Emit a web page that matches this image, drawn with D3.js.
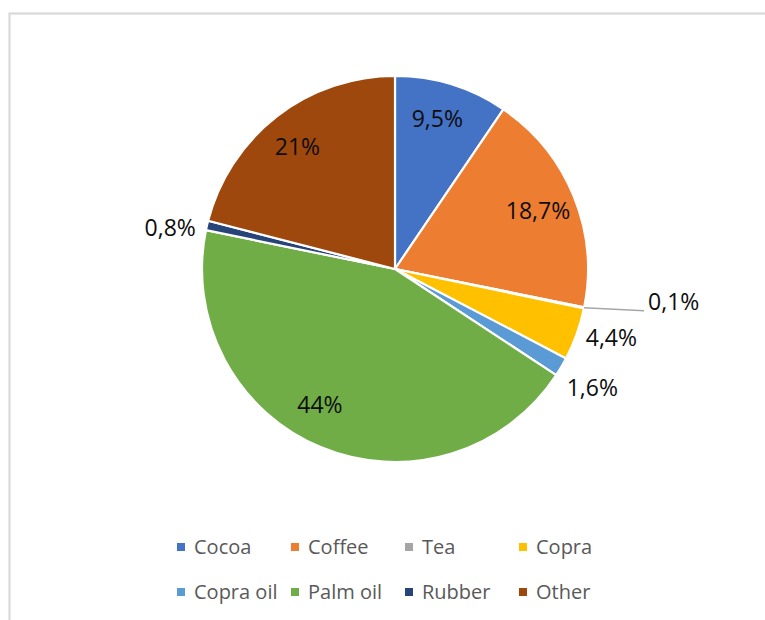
<!DOCTYPE html>
<html>
<head>
<meta charset="utf-8">
<script src="https://cdn.jsdelivr.net/npm/d3@7"></script>
<style>
  html, body { margin: 0; padding: 0; background: #fff; }
  svg { display: block; }
</style>
</head>
<body>
<svg id="chart" width="765" height="620"></svg>
<script>
// Export shares by product (%)
const categories = ["Cocoa", "Coffee", "Tea", "Copra", "Copra oil", "Palm oil", "Rubber", "Other"];
const values = [9.5, 18.7, 0.1, 4.4, 1.6, 44, 0.8, 21];
const colors = ["#4472C4", "#ED7D31", "#A5A5A5", "#FFC000", "#5B9BD5", "#70AD47", "#264478", "#9E480E"];

// Where each slice's value label goes
const labelMode = ["inside", "inside", "leader", "outside", "outside", "inside", "outside", "inside"];
const labelNudge = { "Cocoa": [-3, -3], "Copra": [3, -3], "Copra oil": [2, 11], "Palm oil": [-16, -7], "Rubber": [-4, 7], "Other": [-3, 0] };

const W = 765, H = 620;
const cx = 395, cy = 269, R = 193;

const svg = d3.select("#chart");

// outer frame
svg.append("rect")
  .attr("x", 9.5).attr("y", 13.5)
  .attr("width", 800).attr("height", 700)
  .attr("fill", "#fff")
  .attr("stroke", "#d9d9d9").attr("stroke-width", 2.2);

const data = categories.map((c, i) => ({ name: c, value: values[i], color: colors[i], mode: labelMode[i] }));

const pie = d3.pie().sort(null).value(d => d.value);
const arcs = pie(data);
const arc = d3.arc().innerRadius(0).outerRadius(R);

const g = svg.append("g").attr("transform", `translate(${cx},${cy})`);

g.selectAll("path.slice")
  .data(arcs)
  .join("path")
  .attr("class", "slice")
  .attr("d", arc)
  .attr("fill", d => d.data.color)
  .attr("stroke", "#fff")
  .attr("stroke-width", 2.2)
  .attr("stroke-linejoin", "round");

const fmt = v => String(v).replace(".", ",") + "%";
const labelFont = "'Open Sans', sans-serif";
const labelSize = 23;

const polar = (r, a) => [r * Math.sin(a), -r * Math.cos(a)];

arcs.forEach(d => {
  const mid = (d.startAngle + d.endAngle) / 2;
  const nudge = labelNudge[d.data.name] || [0, 0];
  const txt = g.append("text")
    .text(fmt(d.data.value))
    .attr("font-family", labelFont)
    .attr("font-size", labelSize)
    .attr("fill", "#0d0d0d")
    .attr("dy", "0.36em");

  if (d.data.mode === "inside") {
    const [x, y] = polar(R * 0.8, mid);
    txt.attr("x", x + nudge[0]).attr("y", y + nudge[1]).attr("text-anchor", "middle");
  } else if (d.data.mode === "outside") {
    const w = txt.node().getComputedTextLength();
    const h = labelSize * 1.05;
    const [px, py] = polar(R + 8, mid);
    const x = px + (w / 2) * Math.sin(mid) + nudge[0];
    const y = py - (h / 2) * Math.cos(mid) + nudge[1];
    txt.attr("x", x).attr("y", y).attr("text-anchor", "middle");
  } else {
    // tiny slice: leader line out to the right
    const [sx, sy] = polar(R, mid);
    const ex = sx + 60, ey = sy + 3;
    g.append("path")
      .attr("d", d3.line()([[sx, sy], [ex, ey]]))
      .attr("stroke", "#a6a6a6")
      .attr("stroke-width", 1.6)
      .attr("fill", "none");
    txt.attr("x", ex + 4).attr("y", ey - 9).attr("text-anchor", "start");
  }
});

// legend: two rows of four
const legendCols = 4;
const colX = d3.scaleLinear().domain([0, 1]).range([177, 291]);
const rowY = d3.scaleLinear().domain([0, 1]).range([547, 592]);

const legend = svg.append("g");
const items = legend.selectAll("g.item")
  .data(data)
  .join("g")
  .attr("class", "item")
  .attr("transform", (d, i) => `translate(${colX(i % legendCols)},${rowY(Math.floor(i / legendCols))})`);

items.append("rect")
  .attr("x", 0).attr("y", -4)
  .attr("width", 8).attr("height", 8)
  .attr("fill", d => d.color);

items.append("text")
  .attr("x", 17)
  .attr("dy", "0.36em")
  .attr("font-family", labelFont)
  .attr("font-size", 20)
  .attr("fill", "#595959")
  .text(d => d.name);
</script>
</body>
</html>
